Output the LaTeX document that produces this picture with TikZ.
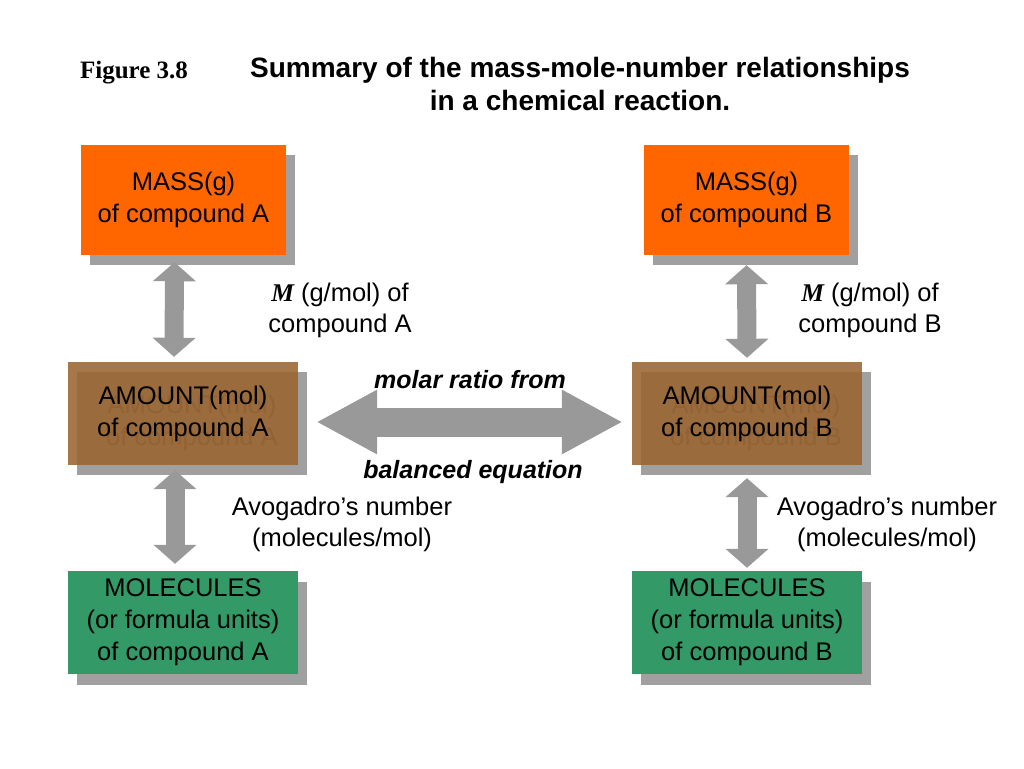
\documentclass[tikz,border=0pt]{standalone}
\usepackage{fontspec}
\setmainfont{Liberation Sans}
\newfontfamily\timesfont{Liberation Serif}
\usetikzlibrary{arrows.meta}
\usetikzlibrary{positioning}

\definecolor{massorange}{HTML}{FF6600}
\definecolor{amountbrown}{HTML}{9A642F}
\definecolor{molgreen}{HTML}{339966}
\definecolor{shadowgray}{HTML}{A0A0A0}
\definecolor{arrowgray}{HTML}{999999}

\begin{document}
\begin{tikzpicture}[x=1pt, y=-1pt,
    box/.style={minimum width=205pt, minimum height=110pt, inner sep=0pt,
      align=center, font=\fontsize{25.5}{32}\selectfont},
    widebox/.style={box, minimum width=230pt, minimum height=103pt},
    shadowbox/.style={fill=shadowgray},
    twoway/.style={arrowgray, line width=19pt,
      {Triangle[width=42pt, length=19pt]}-{Triangle[width=42pt, length=19pt]}},
    label/.style={align=center, font=\fontsize{25.5}{31}\selectfont}]
  \useasboundingbox (0,0) rectangle (1024,768);

  % heading
  \node (fig) at (134,73) {\timesfont\bfseries\fontsize{25}{28}\selectfont Figure 3.8};
  \node (title) [align=center, font=\bfseries\fontsize{28}{33}\selectfont] at (580,84)
    {Summary of the mass-mole-number relationships\\in a chemical reaction.};

  % shadows
  \node [box, shadowbox] (massAs) at (192,210) {};
  \node [box, shadowbox] (massBs) at (755,210) {};
  \node [widebox, shadowbox, text=black!65] (amountAs) at (192,423) {AMOUNT(mol)\\of compound A};
  \node [widebox, shadowbox, text=black!65] (amountBs) at (756,423) {AMOUNT(mol)\\of compound B};
  \node [widebox, shadowbox] (molAs) at (192,633) {};
  \node [widebox, shadowbox] (molBs) at (756,633) {};

  % boxes
  \node [box, fill=massorange] (massA) at (183.5,200) {MASS(g)\\of compound A};
  \node [box, fill=massorange] (massB) at (746.5,200) {MASS(g)\\of compound B};
  \node [widebox, fill=amountbrown, fill opacity=0.88, text opacity=1] (amountA) at (183,413.5)
    {AMOUNT(mol)\\of compound A};
  \node [widebox, fill=amountbrown, fill opacity=0.88, text opacity=1] (amountB) at (747,413.5)
    {AMOUNT(mol)\\of compound B};
  \node [widebox, fill=molgreen] (molA) at (183,622.5)
    {MOLECULES\\(or formula units)\\of compound A};
  \node [widebox, fill=molgreen] (molB) at (747,622.5)
    {MOLECULES\\(or formula units)\\of compound B};

  % arrows
  \draw [twoway] ([xshift=-9pt, yshift=-7pt]massA.south) -- ([xshift=-9pt, yshift=5pt]amountA.north);
  \draw [twoway] ([xshift=-8pt, yshift=-5pt]amountA.south) -- ([xshift=-8pt, yshift=7pt]molA.north);
  \draw [twoway] ([yshift=-10pt]massB.south) -- ([yshift=4pt]amountB.north);
  \draw [twoway] ([yshift=-13pt]amountB.south) -- ([yshift=3pt]molB.north);
  \draw [arrowgray, line width=29pt,
    {Triangle[width=60pt, length=61pt]}-{Triangle[width=60pt, length=61pt]}]
    ([xshift=18pt, yshift=-8.5pt]amountA.east) -- ([xshift=-9pt, yshift=-8.5pt]amountB.west);

  % labels
  \node [label] (molarA) at (340,310) {{\timesfont\bfseries\itshape M} (g/mol) of\\compound A};
  \node [label] (molarB) at (870,310) {{\timesfont\bfseries\itshape M} (g/mol) of\\compound B};
  \node [label, font=\bfseries\itshape\fontsize{25}{28}\selectfont] (ratio) at (470,380) {molar ratio from};
  \node [label, font=\bfseries\itshape\fontsize{25}{28}\selectfont] (balanced) at (473,472) {balanced equation};
  \node [label] (avoA) at (342,524) {Avogadro’s number\\(molecules/mol)};
  \node [label] (avoB) at (887,524) {Avogadro’s number\\(molecules/mol)};
\end{tikzpicture}
\end{document}
